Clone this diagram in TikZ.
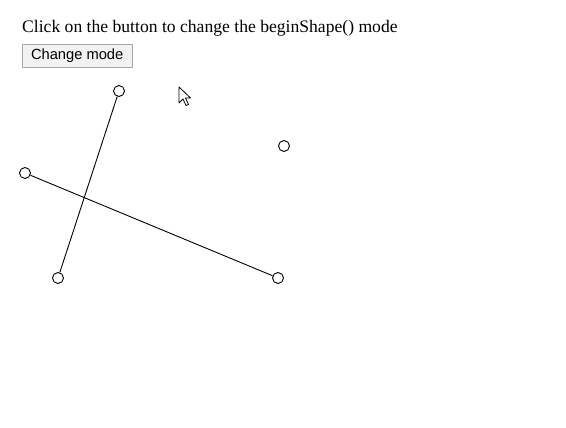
\documentclass[tikz,border=0pt]{standalone}
\usepackage{fontspec}
\setmainfont{Liberation Serif}
\newfontfamily\btnfont{Liberation Sans}
\begin{document}
\begin{tikzpicture}[x=1pt,y=-1pt,
  vertex/.style={circle, draw=black, fill=white, line width=0.9pt, minimum size=11pt, inner sep=0pt},
  edge/.style={line width=0.9pt}]
  \useasboundingbox[fill=white] (0,0) rectangle (566,428);

  % caption and button
  \node[anchor=base west, inner sep=0pt, font=\fontsize{17.6}{20}\selectfont] (caption) at (22,33) {Click on the button to change the beginShape() mode};
  \node[rectangle, draw=gray!70, fill=gray!10, anchor=north west, minimum width=110pt, minimum height=23pt, inner sep=0pt, font=\btnfont\fontsize{14.7}{17}\selectfont] (button) at (22,44) {Change mode};

  % points
  \node[vertex] (top) at (119,91) {};
  \node[vertex] (lone) at (284,146) {};
  \node[vertex] (left) at (25,173) {};
  \node[vertex] (botleft) at (58,278) {};
  \node[vertex] (botright) at (278,278) {};

  % lines
  \draw[edge] (top) -- (botleft);
  \draw[edge] (left) -- (botright);

  % mouse pointer
  \filldraw[fill=white, draw=black, line width=0.8pt, line join=round] (179,87) -- (179,103) -- (183,99) -- (186,105.5) -- (188.5,104.5) -- (185.5,98) -- (190.5,98) -- cycle;
\end{tikzpicture}
\end{document}
